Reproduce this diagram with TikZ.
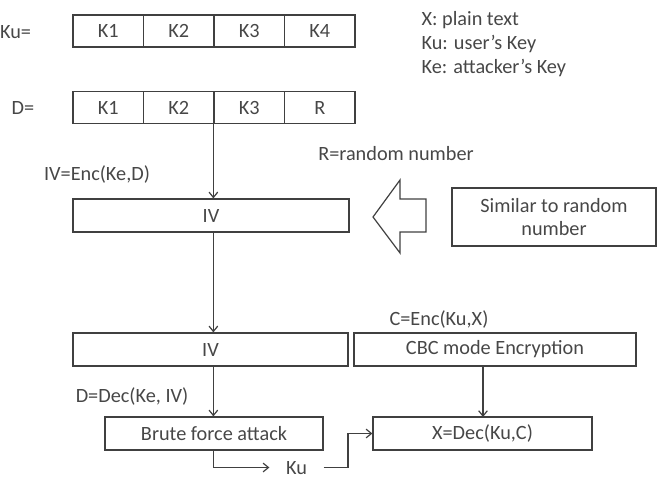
\documentclass[tikz,border=0pt]{standalone}
\usepackage{fontspec}
\setmainfont{Carlito}
\usetikzlibrary{arrows.meta}

\tikzset{
  cell/.style={draw, minimum width=52.9pt, minimum height=24pt, inner sep=0pt},
  box/.style={draw, minimum height=24.75pt, inner sep=0pt},
  lbl/.style={inner sep=0pt},
}

\begin{document}
\begin{tikzpicture}[>={Straight Barb[length=4pt,width=6.5pt]}, x=0.75pt, y=-0.75pt,
    line width=0.9pt, draw=black!75, text=black!72, font=\fontsize{15.2}{17.5}\selectfont]
  \useasboundingbox (0,0) rectangle (666,478);
  % key of the user
  \node[lbl] (kulbl) at (15.5,32) {Ku=};
  \node[cell] (u1) at (108.25,31) {K1};
  \node[cell] (u2) at (178.75,31) {K2};
  \node[cell] (u3) at (249.25,31) {K3};
  \node[cell] (u4) at (319.75,31) {K4};
  % data block
  \node[lbl] (dlbl) at (23,108) {D=};
  \node[cell] (d1) at (108.25,107.5) {K1};
  \node[cell] (d2) at (178.75,107.5) {K2};
  \node[cell] (d3) at (249.25,107.5) {K3};
  \node[cell] (d4) at (319.75,107.5) {R};
  % legend
  \node[lbl, anchor=west] (lx) at (421,20) {X: plain text};
  \node[lbl, anchor=west] (lku) at (421,44) {Ku: user’s Key};
  \node[lbl, anchor=west] (lke) at (421,68) {Ke: attacker’s Key};
  \node[lbl] (rnd) at (396,154) {R=random number};

  \node[lbl] (enc) at (97,174) {IV=Enc(Ke,D)};
  \node[box, minimum width=207pt] (iv1) at (211,215.5) {IV};
  \node[box, minimum width=153pt, minimum height=43.5pt, align=center] (sim) at (554,217)
    {Similar to random\\number};
  \draw (373,217) -- (400,180) -- (400,199) -- (426,199) -- (426,232) -- (400,232)
    -- (400,253) -- cycle;

  \node[box, minimum width=206.25pt] (iv2) at (210.5,349.5) {IV};
  \node[box, minimum width=211.5pt] (cbc) at (495,349.5) {CBC mode Encryption};
  \node[lbl] (cenc) at (439,319) {C=Enc(Ku,X)};
  \node[lbl] (dec) at (132,396) {D=Dec(Ke, IV)};
  \node[box, minimum width=163.5pt] (brute) at (214,433.5) {Brute force attack};
  \node[box, minimum width=164.25pt] (xdec) at (482.5,433.5) {X=Dec(Ku,C)};
  \node[lbl, text depth=0pt, minimum width=39.75pt] (ku) at (296.5,467.5) {Ku};

  \draw[->] (d3.south west) -- (d3.south west |- iv1.north);
  \draw[->] (d3.south west |- iv1.south) -- (d3.south west |- iv2.north);
  \draw[->] (d3.south west |- iv2.south) -- (d3.south west |- brute.north);
  \draw[->] (d3.south west |- brute.south) |- (ku.west);
  \draw[->] (ku.east) -| (348,433.5) -- (xdec.west);
  \draw[->] (483,366) -- (483,417);
\end{tikzpicture}
\end{document}
